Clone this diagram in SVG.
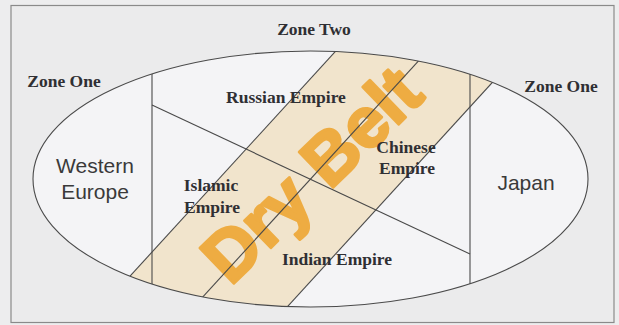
<svg xmlns="http://www.w3.org/2000/svg" width="619" height="325" viewBox="0 0 619 325">
<style>
.lbl{font-family:"Liberation Serif","Times New Roman",serif;font-weight:bold;font-size:17.5px;fill:#2f2f33;text-anchor:middle}
.geo{font-family:"Liberation Sans",Arial,sans-serif;font-size:21px;fill:#3a3a3a;text-anchor:middle}
.ln{stroke:#4a4a4a;stroke-width:1.1;fill:none}
</style>
<defs>
<clipPath id="ell"><ellipse cx="310.5" cy="179" rx="277.5" ry="128"/></clipPath>
</defs>
<rect x="0" y="0" width="619" height="325" fill="#ededee"/>
<g id="frame"><rect x="11" y="5.5" width="603" height="317" fill="#ebebec" stroke="#8a8a8a" stroke-width="1.2"/></g>
<g id="world">
<ellipse cx="310.5" cy="179" rx="277.5" ry="128" fill="#f4f4f6"/>
<g clip-path="url(#ell)">
<polygon id="dry-belt-band" points="89,321 376,7 533,38 246,352" fill="#f1e4cc"/>
</g>
</g>
<g id="dry-belt-text">
<text transform="translate(311,174) rotate(-44)" x="0" y="25" text-anchor="middle" font-family="'Liberation Sans',Arial,sans-serif" font-weight="bold" font-size="71" fill="#eea32a" stroke="#eea32a" stroke-width="3" stroke-linejoin="round" opacity="0.85">Dry Belt</text>
</g>
<g id="connectors">
<g clip-path="url(#ell)">
<line class="ln" x1="89" y1="321" x2="376" y2="7"/>
<line class="ln" x1="246" y1="352" x2="533" y2="38"/>
<line class="ln" x1="168" y1="335" x2="455" y2="21"/>
<line class="ln" x1="152" y1="40" x2="152" y2="320"/>
<line class="ln" x1="470" y1="40" x2="470" y2="320"/>
</g>
<line class="ln" x1="152" y1="105" x2="470" y2="254"/>
<ellipse class="ln" cx="310.5" cy="179" rx="277.5" ry="128"/>
</g>
<g id="zone-two"><text class="lbl" x="314" y="35">Zone Two</text></g>
<g id="zone-one-left"><text class="lbl" x="64" y="87">Zone One</text></g>
<g id="zone-one-right"><text class="lbl" x="561" y="92">Zone One</text></g>
<g id="russian-empire"><text class="lbl" x="286" y="103">Russian Empire</text></g>
<g id="chinese-empire"><text class="lbl" x="406" y="153">Chinese</text><text class="lbl" x="407" y="174">Empire</text></g>
<g id="islamic-empire"><text class="lbl" x="211" y="191">Islamic</text><text class="lbl" x="212" y="213">Empire</text></g>
<g id="indian-empire"><text class="lbl" x="337" y="265">Indian Empire</text></g>
<g id="western-europe"><text class="geo" x="95" y="173">Western</text><text class="geo" x="95" y="199">Europe</text></g>
<g id="japan"><text class="geo" x="526" y="190">Japan</text></g>
</svg>
